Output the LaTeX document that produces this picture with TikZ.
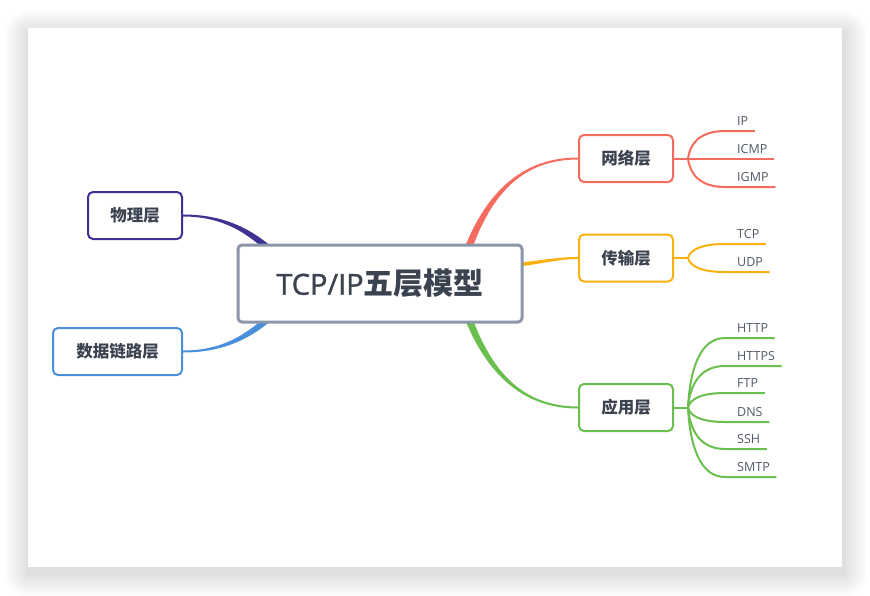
\documentclass[tikz,border=0pt]{standalone}
\usepackage{fontspec}
\setmainfont{Open Sans}
\newfontfamily\osemi[FakeBold=1.2]{Open Sans}
\newfontfamily\cjk{Noto Sans CJK SC}
\usetikzlibrary{calc,backgrounds}
\definecolor{txt}{HTML}{3C4350}
\definecolor{leaftxt}{HTML}{525A66}
\definecolor{cborder}{HTML}{8B97A8}
\definecolor{cred}{HTML}{F46C5E}
\definecolor{cyel}{HTML}{FAB10F}
\definecolor{cgrn}{HTML}{6BBF4E}
\definecolor{cpur}{HTML}{3F3293}
\definecolor{cblu}{HTML}{4A8FDB}
\pgfdeclarelayer{bottom}
\pgfsetlayers{bottom,background,main}
\tikzset{
  centerbox/.style={draw=cborder, line width=3pt, rounded corners=4pt, fill=white,
    minimum width=284pt, minimum height=77pt, inner sep=0pt, text=txt,
    font=\osemi\fontsize{29}{36}\selectfont},
  topicbox/.style={draw=#1, line width=2pt, rounded corners=5pt, fill=white,
    minimum height=47pt, inner sep=0pt, text=txt,
    font=\cjk\bfseries\fontsize{16.5}{20}\selectfont},
  leaf/.style={anchor=south west, inner xsep=6.5pt, inner ysep=5pt, text depth=0pt,
    text=leaftxt, font=\fontsize{12.5}{15}\selectfont},
  leafline/.style={draw=#1, line width=2pt},
}
\begin{document}
\begin{tikzpicture}[x=1pt,y=-1pt]
\useasboundingbox (0,0) rectangle (870,595);
% card with shadow
\begin{pgfonlayer}{bottom}
\fill[white] (0,0) rectangle (870,595);
\foreach \i in {1,...,16}{
  \fill[black, opacity=0.008, rounded corners={\i*1.5pt}] ({28-\i*1.5+1},{28-\i*1.5+6}) rectangle ({842+\i*1.5+1},{567+\i*1.5+6});
}
\fill[white] (28,28) rectangle (842,567);
\end{pgfonlayer}

% nodes
\node[centerbox] (c) at (380,283.5) {TCP/IP{\cjk\bfseries\fontsize{30}{36}\selectfont 五层模型}};
\node[topicbox=cpur, minimum width=94pt] (phy) at (135,215.5) {物理层};
\node[topicbox=cblu, minimum width=129pt] (dl) at (117.5,351.5) {数据链路层};
\node[topicbox=cred, minimum width=94pt] (net) at (626,158.5) {网络层};
\node[topicbox=cyel, minimum width=94pt] (tr) at (626,258) {传输层};
\node[topicbox=cgrn, minimum width=94pt] (app) at (626,407.5) {应用层};

% hidden start/end points of main connectors
\coordinate (r0) at (455,292);
\coordinate (g0) at (455,275);
\coordinate (y0) at (505,266);
\coordinate (p3) at (285,265);
\coordinate (b3) at (285,302);

\begin{pgfonlayer}{background}
% red
\fill[cred] ($(r0)+(3.9,1)$) .. controls (478.9,211) and (510,159.5) .. ($(net.west)+(0,1)$)
  -- ($(net.west)+(0,-1)$) .. controls (510,157.5) and (471.1,209) .. ($(r0)+(-3.9,-1)$) -- cycle;
% green
\fill[cgrn] ($(g0)+(3.9,-1)$) .. controls (478.9,354) and (510,406.5) .. ($(app.west)+(0,-1)$)
  -- ($(app.west)+(0,1)$) .. controls (510,408.5) and (471.1,356) .. ($(g0)+(-3.9,1)$) -- cycle;
% yellow
\fill[cyel] ($(y0)+(0,-2)$) .. controls (540,261) and (555,257) .. ($(tr.west)+(0,-1)$)
  -- ($(tr.west)+(0,1)$) .. controls (555,259) and (540,265) .. ($(y0)+(0,2)$) -- cycle;
% purple
\fill[cpur] ($(phy.east)+(0,-1)$) .. controls (225,214.5) and (257.5,229.5) .. ($(p3)+(2.6,-2.6)$)
  -- ($(p3)+(-2.6,2.6)$) .. controls (252.5,234.5) and (225,216.5) .. ($(phy.east)+(0,1)$) -- cycle;
% blue
\fill[cblu] ($(dl.east)+(0,-1)$) .. controls (225,350.5) and (252.5,332.5) .. ($(b3)+(-2.6,-2.6)$)
  -- ($(b3)+(2.6,2.6)$) .. controls (257.5,337.5) and (225,352.5) .. ($(dl.east)+(0,1)$) -- cycle;
\end{pgfonlayer}

% leaves: network layer
\coordinate (nb) at (688,158.5);
\node[leaf] (ip) at (730.5,131) {IP};
\node[leaf] (icmp) at (730.5,158.5) {ICMP};
\node[leaf] (igmp) at (730.5,187) {IGMP};
\draw[leafline=cred] (net.east) -- (nb);
\draw[leafline=cred] (nb) .. controls (690,143.4) and (700,131) .. (725,131) -- (ip.south east);
\draw[leafline=cred] (nb) -- (icmp.south east);
\draw[leafline=cred] (nb) .. controls (690,174.2) and (700,187) .. (725,187) -- (igmp.south east);

% leaves: transport layer
\coordinate (tb) at (688,258);
\node[leaf] (tcp) at (730.5,244) {TCP};
\node[leaf] (udp) at (730.5,272) {UDP};
\draw[leafline=cyel] (tr.east) -- (tb);
\draw[leafline=cyel] (tb) .. controls (690,250.3) and (700,244) .. (725,244) -- (tcp.south east);
\draw[leafline=cyel] (tb) .. controls (690,265.7) and (700,272) .. (725,272) -- (udp.south east);

% leaves: application layer
\coordinate (ab) at (688,407.5);
\node[leaf] (http) at (730.5,338) {HTTP};
\node[leaf] (https) at (730.5,366) {HTTPS};
\node[leaf] (ftp) at (730.5,393) {FTP};
\node[leaf] (dns) at (730.5,422) {DNS};
\node[leaf] (ssh) at (730.5,449) {SSH};
\node[leaf] (smtp) at (730.5,477) {SMTP};
\draw[leafline=cgrn] (app.east) -- (ab);
\draw[leafline=cgrn] (ab) .. controls (690,369.3) and (700,338) .. (725,338) -- (http.south east);
\draw[leafline=cgrn] (ab) .. controls (690,384.7) and (700,366) .. (725,366) -- (https.south east);
\draw[leafline=cgrn] (ab) .. controls (690,399.5) and (700,393) .. (725,393) -- (ftp.south east);
\draw[leafline=cgrn] (ab) .. controls (690,415.5) and (700,422) .. (725,422) -- (dns.south east);
\draw[leafline=cgrn] (ab) .. controls (690,430.3) and (700,449) .. (725,449) -- (ssh.south east);
\draw[leafline=cgrn] (ab) .. controls (690,445.7) and (700,477) .. (725,477) -- (smtp.south east);
\end{tikzpicture}
\end{document}
